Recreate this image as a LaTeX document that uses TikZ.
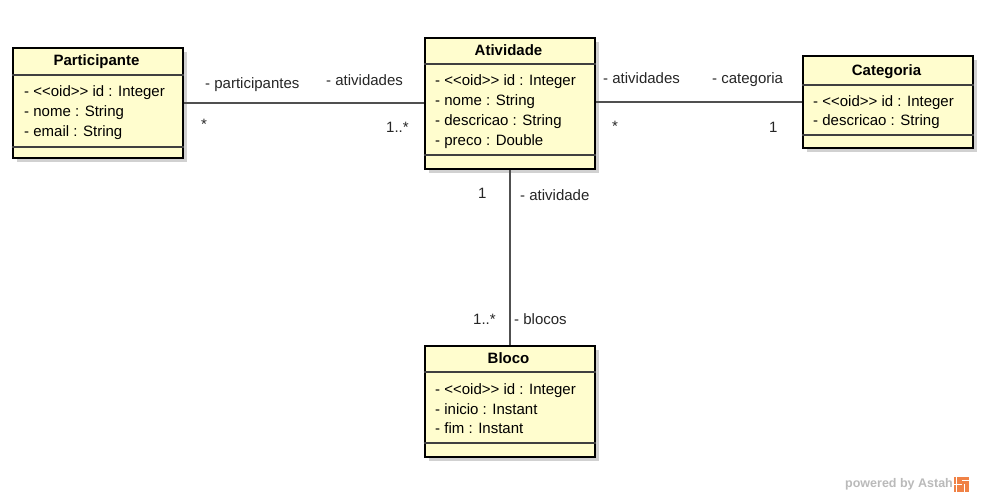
\documentclass[tikz,border=0pt]{standalone}
\usepackage{fontspec}
\setmainfont{Liberation Sans}[Ligatures=TeXOff]
\usetikzlibrary{shadows}
\definecolor{classfill}{RGB}{255,253,206}
\definecolor{edgegray}{RGB}{80,80,80}
\definecolor{logoorange}{RGB}{240,130,70}
\newcommand{\umlfont}{\fontsize{15pt}{17pt}\selectfont}
\begin{document}
\begin{tikzpicture}[x=1pt,y=-1pt,
  classbox/.style={draw=black, line width=2.6pt, fill=classfill, inner sep=0pt,
    anchor=north west, minimum width=170pt,
    drop shadow={shadow xshift=4pt, shadow yshift=-4pt, fill=black!18, opacity=1}},
  sepline/.style={draw=black!75, line width=1.1pt},
  title/.style={inner sep=0pt, text height=11pt, text depth=3pt, font=\umlfont\bfseries},
  attr/.style={inner sep=0pt, anchor=west, text height=11pt, text depth=3pt, font=\umlfont},
  assoc/.style={draw=edgegray, line width=1.4pt},
  lbl/.style={inner sep=0pt, anchor=west, text height=11pt, text depth=3pt, font=\umlfont, text=black!85}]

\useasboundingbox (0,0) rectangle (997,501);
\fill[white] (0,0) rectangle (997,501);

% ---- class Participante ----
\node[classbox, minimum height=110pt] (part) at (11.5,46.5) {};
\node[title] (part-t) at (96.5,61) {Participante};
\draw[sepline] (part.west |- 0,75) -- (part.east |- 0,75);
\node[attr] (part-a1) at (24,92) {- <<oid>> id : Integer};
\node[attr] (part-a2) at (24,112) {- nome : String};
\node[attr] (part-a3) at (24,132) {- email : String};
\draw[sepline] (part.west |- 0,147) -- (part.east |- 0,147);

% ---- class Atividade ----
\node[classbox, minimum height=131pt] (act) at (423.5,36.5) {};
\node[title] (act-t) at (508.5,51) {Atividade};
\draw[sepline] (act.west |- 0,64) -- (act.east |- 0,64);
\node[attr] (act-a1) at (435,81) {- <<oid>> id : Integer};
\node[attr] (act-a2) at (435,101) {- nome : String};
\node[attr] (act-a3) at (435,121) {- descricao : String};
\node[attr] (act-a4) at (435,141) {- preco : Double};
\draw[sepline] (act.west |- 0,155) -- (act.east |- 0,155);

% ---- class Categoria ----
\node[classbox, minimum height=92pt] (cat) at (801.5,54.5) {};
\node[title] (cat-t) at (886.5,71) {Categoria};
\draw[sepline] (cat.west |- 0,85) -- (cat.east |- 0,85);
\node[attr] (cat-a1) at (813,102) {- <<oid>> id : Integer};
\node[attr] (cat-a2) at (813,121) {- descricao : String};
\draw[sepline] (cat.west |- 0,135) -- (cat.east |- 0,135);

% ---- class Bloco ----
\node[classbox, minimum height=111pt] (bloc) at (423.5,344.5) {};
\node[title] (bloc-t) at (508.5,359) {Bloco};
\draw[sepline] (bloc.west |- 0,372) -- (bloc.east |- 0,372);
\node[attr] (bloc-a1) at (435,390) {- <<oid>> id : Integer};
\node[attr] (bloc-a2) at (435,410) {- inicio : Instant};
\node[attr] (bloc-a3) at (435,429) {- fim : Instant};
\draw[sepline] (bloc.west |- 0,443) -- (bloc.east |- 0,443);

% ---- associations ----
\draw[assoc] (part.east) -- (part.east -| act.west);
\draw[assoc] (act.east |- cat.west) -- (cat.west);
\draw[assoc] (act.south) -- (bloc.north);

% ---- association end labels ----
\node[lbl] (l-parts) at (205,84) {- participantes};
\node[lbl] (l-acts1) at (326,81) {- atividades};
\node[lbl] (m-parts) at (201,125) {*};
\node[lbl] (m-acts1) at (386,128) {1..*};

\node[lbl] (l-acts2) at (603,79) {- atividades};
\node[lbl] (l-cat) at (712,79) {- categoria};
\node[lbl] (m-acts2) at (612,127) {*};
\node[lbl] (m-cat) at (769,128) {1};

\node[lbl] (m-act) at (478,194) {1};
\node[lbl] (l-act) at (520,196) {- atividade};
\node[lbl] (m-blocs) at (473,320) {1..*};
\node[lbl] (l-blocs) at (514,320) {- blocos};

% ---- tool credit ----
\node[inner sep=0pt, anchor=west, text=black!27, font=\fontsize{12.5pt}{14pt}\selectfont\bfseries] (brand) at (845,484) {powered by Astah};
\node[fill=logoorange, minimum size=15pt, inner sep=0pt, anchor=west] (logo) at ([xshift=1pt]brand.east) {};
\draw[white, line width=1pt] ([xshift=-5pt]logo.north) -- ([xshift=-5pt]logo.south)
  (logo.west) -- (logo.center) ([yshift=4pt]logo.center) -- ([yshift=4pt]logo.east)
  ([xshift=3pt]logo.center) -- ([xshift=3pt]logo.south);
\end{tikzpicture}
\end{document}
